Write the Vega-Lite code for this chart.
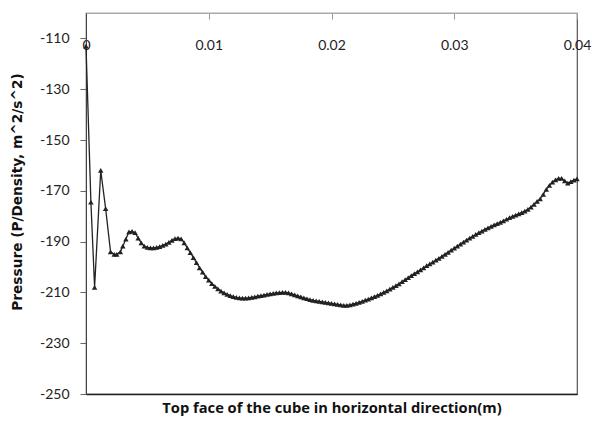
{
  "$schema": "https://vega.github.io/schema/vega-lite/v6.json",
  "width": 491,
  "height": 381,
  "autosize": "none",
  "padding": {"left": 86, "top": 13, "right": 15, "bottom": 29},
  "background": "white",
  "config": {
    "view": {"stroke": "#555", "strokeWidth": 1.2},
    "axis": {"labelFont": "Lato", "titleFont": "Lato", "grid": false}
  },
  "data": {
    "values": [
      {"x": 0, "p": -113},
      {"x": 0.0004, "p": -174.5},
      {"x": 0.0007, "p": -208},
      {"x": 0.0012, "p": -162},
      {"x": 0.0016, "p": -177},
      {"x": 0.002, "p": -194},
      {"x": 0.0023, "p": -195},
      {"x": 0.0025, "p": -195},
      {"x": 0.0028, "p": -194},
      {"x": 0.003, "p": -191.8},
      {"x": 0.00325, "p": -189},
      {"x": 0.0035, "p": -186.2},
      {"x": 0.00375, "p": -186},
      {"x": 0.004, "p": -186.5},
      {"x": 0.00425, "p": -188.6},
      {"x": 0.0045, "p": -190.5},
      {"x": 0.00475, "p": -191.8},
      {"x": 0.005, "p": -192.3},
      {"x": 0.00525, "p": -192.5},
      {"x": 0.0055, "p": -192.5},
      {"x": 0.00575, "p": -192.3},
      {"x": 0.006, "p": -192},
      {"x": 0.00625, "p": -191.5},
      {"x": 0.0065, "p": -191},
      {"x": 0.00675, "p": -190.3},
      {"x": 0.007, "p": -189.5},
      {"x": 0.00725, "p": -188.8},
      {"x": 0.0075, "p": -188.6},
      {"x": 0.00775, "p": -188.9},
      {"x": 0.008, "p": -190.5},
      {"x": 0.00825, "p": -192.5},
      {"x": 0.0085, "p": -194.3},
      {"x": 0.00875, "p": -196.3},
      {"x": 0.009, "p": -198.3},
      {"x": 0.00925, "p": -200.3},
      {"x": 0.0095, "p": -202},
      {"x": 0.00975, "p": -203.8},
      {"x": 0.01, "p": -205.2},
      {"x": 0.01025, "p": -206.5},
      {"x": 0.0105, "p": -207.6},
      {"x": 0.01075, "p": -208.6},
      {"x": 0.011, "p": -209.5},
      {"x": 0.01125, "p": -210.2},
      {"x": 0.0115, "p": -210.8},
      {"x": 0.01175, "p": -211.3},
      {"x": 0.012, "p": -211.7},
      {"x": 0.01225, "p": -212},
      {"x": 0.0125, "p": -212.2},
      {"x": 0.01275, "p": -212.3},
      {"x": 0.013, "p": -212.3},
      {"x": 0.01325, "p": -212.2},
      {"x": 0.0135, "p": -212},
      {"x": 0.01375, "p": -211.8},
      {"x": 0.014, "p": -211.5},
      {"x": 0.01425, "p": -211.3},
      {"x": 0.0145, "p": -211.1},
      {"x": 0.01475, "p": -210.8},
      {"x": 0.015, "p": -210.6},
      {"x": 0.01525, "p": -210.4},
      {"x": 0.0155, "p": -210.2},
      {"x": 0.01575, "p": -210.1},
      {"x": 0.016, "p": -210},
      {"x": 0.01625, "p": -210},
      {"x": 0.0165, "p": -210.2},
      {"x": 0.01675, "p": -210.6},
      {"x": 0.017, "p": -211},
      {"x": 0.01725, "p": -211.4},
      {"x": 0.0175, "p": -211.8},
      {"x": 0.01775, "p": -212.2},
      {"x": 0.018, "p": -212.5},
      {"x": 0.01825, "p": -212.8},
      {"x": 0.0185, "p": -213.1},
      {"x": 0.01875, "p": -213.3},
      {"x": 0.019, "p": -213.5},
      {"x": 0.01925, "p": -213.7},
      {"x": 0.0195, "p": -213.9},
      {"x": 0.01975, "p": -214.1},
      {"x": 0.02, "p": -214.3},
      {"x": 0.02025, "p": -214.5},
      {"x": 0.0205, "p": -214.7},
      {"x": 0.02075, "p": -214.9},
      {"x": 0.021, "p": -215.1},
      {"x": 0.02125, "p": -215.1},
      {"x": 0.0215, "p": -214.9},
      {"x": 0.02175, "p": -214.6},
      {"x": 0.022, "p": -214.3},
      {"x": 0.02225, "p": -213.9},
      {"x": 0.0225, "p": -213.5},
      {"x": 0.02275, "p": -213},
      {"x": 0.023, "p": -212.6},
      {"x": 0.02325, "p": -212.2},
      {"x": 0.0235, "p": -211.7},
      {"x": 0.02375, "p": -211.2},
      {"x": 0.024, "p": -210.6},
      {"x": 0.02425, "p": -210},
      {"x": 0.0245, "p": -209.4},
      {"x": 0.02475, "p": -208.7},
      {"x": 0.025, "p": -208},
      {"x": 0.02525, "p": -207.3},
      {"x": 0.0255, "p": -206.6},
      {"x": 0.02575, "p": -205.8},
      {"x": 0.026, "p": -205},
      {"x": 0.02625, "p": -204.2},
      {"x": 0.0265, "p": -203.4},
      {"x": 0.02675, "p": -202.6},
      {"x": 0.027, "p": -201.9},
      {"x": 0.02725, "p": -201.1},
      {"x": 0.0275, "p": -200.3},
      {"x": 0.02775, "p": -199.5},
      {"x": 0.028, "p": -198.8},
      {"x": 0.02825, "p": -198.1},
      {"x": 0.0285, "p": -197.3},
      {"x": 0.02875, "p": -196.6},
      {"x": 0.029, "p": -195.8},
      {"x": 0.02925, "p": -195},
      {"x": 0.0295, "p": -194.2},
      {"x": 0.02975, "p": -193.4},
      {"x": 0.03, "p": -192.6},
      {"x": 0.03025, "p": -191.8},
      {"x": 0.0305, "p": -191},
      {"x": 0.03075, "p": -190.2},
      {"x": 0.031, "p": -189.4},
      {"x": 0.03125, "p": -188.6},
      {"x": 0.0315, "p": -187.9},
      {"x": 0.03175, "p": -187.2},
      {"x": 0.032, "p": -186.5},
      {"x": 0.03225, "p": -185.9},
      {"x": 0.0325, "p": -185.2},
      {"x": 0.03275, "p": -184.6},
      {"x": 0.033, "p": -184},
      {"x": 0.03325, "p": -183.4},
      {"x": 0.0335, "p": -182.9},
      {"x": 0.03375, "p": -182.4},
      {"x": 0.034, "p": -181.8},
      {"x": 0.03425, "p": -181.2},
      {"x": 0.0345, "p": -180.6},
      {"x": 0.03475, "p": -180.1},
      {"x": 0.035, "p": -179.6},
      {"x": 0.03525, "p": -179.1},
      {"x": 0.0355, "p": -178.6},
      {"x": 0.03575, "p": -178},
      {"x": 0.036, "p": -177.3},
      {"x": 0.03625, "p": -176.4},
      {"x": 0.0365, "p": -175.3},
      {"x": 0.03675, "p": -174.2},
      {"x": 0.037, "p": -173.2},
      {"x": 0.03725, "p": -171.4},
      {"x": 0.0375, "p": -169.4},
      {"x": 0.03775, "p": -167.9},
      {"x": 0.038, "p": -166.6},
      {"x": 0.03825, "p": -165.7},
      {"x": 0.0385, "p": -165.1},
      {"x": 0.03875, "p": -165.1},
      {"x": 0.039, "p": -166.1},
      {"x": 0.03925, "p": -167},
      {"x": 0.0395, "p": -166.4},
      {"x": 0.03975, "p": -165.8},
      {"x": 0.04, "p": -165.3}
    ]
  },
  "resolve": {"axis": {"x": "independent", "y": "independent"}},
  "layer": [
    {
      "mark": {"type": "point", "opacity": 0},
      "encoding": {
        "x": {
          "field": "x", "type": "quantitative",
          "scale": {"domain": [0, 0.04], "nice": false, "zero": false},
          "axis": {
            "orient": "bottom", "labels": false, "ticks": false,
            "domainColor": "#222", "domainWidth": 1.5,
            "title": "Top face of the cube in horizontal direction(m)",
            "titleFont": "Open Sans", "titleFontSize": 14.7, "titleFontWeight": "bold",
            "titleColor": "#111", "titlePadding": 6
          }
        },
        "y": {
          "field": "p", "type": "quantitative",
          "scale": {"domain": [-250, -100], "nice": false, "zero": false},
          "axis": null
        }
      }
    },
    {
      "mark": {
        "type": "line", "color": "#222", "strokeWidth": 1.3,
        "point": {"shape": "triangle-up", "size": 30, "filled": true, "color": "#222"}
      },
      "encoding": {
        "x": {
          "field": "x", "type": "quantitative",
          "scale": {"domain": [0, 0.04], "nice": false, "zero": false},
          "axis": {
            "orient": "top", "values": [0, 0.01, 0.02, 0.03, 0.04],
            "labelExpr": "format(datum.value, '.2~f')",
            "labelFontSize": 14, "labelColor": "#222",
            "tickSize": -6, "tickColor": "#999", "domainColor": "#aaa",
            "labelPadding": -33, "title": null, "labelFlush": false
          }
        },
        "y": {
          "field": "p", "type": "quantitative",
          "scale": {"domain": [-250, -100], "nice": false, "zero": false},
          "axis": {
            "values": [-250, -230, -210, -190, -170, -150, -130, -110],
            "labelExpr": "'-' + abs(datum.value)",
            "labelFontSize": 14, "labelColor": "#222",
            "tickSize": 6, "tickColor": "#666", "domainColor": "#444",
            "labelPadding": 11,
            "title": "Pressure (P/Density, m^2/s^2)",
            "titleFont": "DejaVu Sans", "titleFontSize": 13.7, "titleFontWeight": "bold",
            "titleColor": "#111", "titleX": -69, "titleY": 178.5, "titleAngle": -90,
            "titleBaseline": "middle"
          }
        }
      }
    }
  ]
}
